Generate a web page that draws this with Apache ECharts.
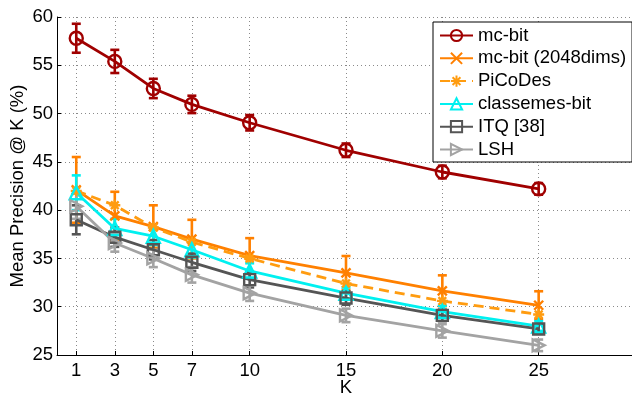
<!DOCTYPE html>
<html>
<head>
<meta charset="utf-8">
<script src="https://cdn.jsdelivr.net/npm/echarts@6/dist/echarts.min.js"></script>
<style>
  html, body { margin: 0; padding: 0; background: #fff; }
  #main { width: 632px; height: 393px; }
</style>
</head>
<body>
<div id="main"></div>
<script>
// values
const kValues = [1, 3, 5, 7, 10, 15, 20, 25]
const xTicks = [1, 3, 5, 7, 10, 15, 20, 25]
const yTicks = [25, 30, 35, 40, 45, 50, 55, 60]

const mcBit = [57.8, 55.4, 52.6, 50.95, 49.05, 46.2, 43.95, 42.2]
const mcBitErr = [1.5, 1.2, 1.0, 0.9, 0.8, 0.7, 0.65, 0.6]
const mcBit2048 = [42.1, 39.4, 38.3, 37.0, 35.3, 33.5, 31.65, 30.15]
const mcBit2048Err = [3.4, 2.5, 2.2, 2.0, 1.8, 1.75, 1.6, 1.45]
const picodes = [42.0, 40.5, 38.2, 36.7, 35.0, 32.4, 30.6, 29.2]
const classemes = [41.8, 38.1, 37.3, 35.9, 33.7, 31.4, 29.5, 28.0]
const classemesErr = [1.8, 1.0, 0.9, 0.8, 0.8, 0.6, 0.6, 0.5]
const itq = [39.0, 37.2, 35.9, 34.6, 32.8, 30.9, 29.1, 27.7]
const itqErr = [1.5, 1.0, 1.0, 0.9, 0.8, 0.7, 0.6, 0.5]
const lsh = [40.4, 36.6, 35.0, 33.3, 31.4, 29.1, 27.5, 26.0]
const lshErr = [1.3, 0.9, 0.9, 0.8, 0.8, 0.7, 0.7, 0.6]

const FONT = '"Liberation Sans", Arial, Helvetica, sans-serif'
const FS = 18.5

// marker shapes (matlab style, hollow)
const xMark = 'path://M0,0L10,10M10,0L0,10'
const starMark = 'path://M5,0L5,10M0,5L10,5M1.5,1.5L8.5,8.5M8.5,1.5L1.5,8.5'
const triRight = 'path://M0,0L10,5L0,10Z'

function pairs(vals) {
  return kValues.map((k, i) => [k, vals[i]])
}

function lineSeries(name, vals, color, symbol, size, dashed) {
  return {
    name: name,
    type: 'line',
    data: pairs(vals),
    symbol: symbol,
    symbolSize: size,
    showAllSymbol: true,
    lineStyle: { color: color, width: 2.8, type: dashed ? [10, 6] : 'solid' },
    itemStyle: { color: 'rgba(0,0,0,0)', borderColor: color, borderWidth: 2.4 },
    emphasis: { disabled: true },
    z: 3
  }
}

function errSeries(vals, errs, color) {
  return {
    type: 'custom',
    name: '',
    data: kValues.map((k, i) => [k, vals[i] - errs[i], vals[i] + errs[i]]),
    renderItem: function (params, api) {
      const x = api.value(0)
      const top = api.coord([x, api.value(2)])
      const bot = api.coord([x, api.value(1)])
      const w = 4.5
      const st = { stroke: color, lineWidth: 2.6 }
      return {
        type: 'group',
        children: [
          { type: 'line', shape: { x1: top[0], y1: top[1], x2: bot[0], y2: bot[1] }, style: st },
          { type: 'line', shape: { x1: top[0] - w, y1: top[1], x2: top[0] + w, y2: top[1] }, style: st },
          { type: 'line', shape: { x1: bot[0] - w, y1: bot[1], x2: bot[0] + w, y2: bot[1] }, style: st }
        ]
      }
    },
    z: 2,
    silent: true
  }
}

const cRed = '#a00000'
const cOrange = '#ff8000'
const cOrange2 = '#ff9c10'
const cCyan = '#00f0f0'
const cDark = '#555555'
const cLight = '#a3a3a3'

const chart = echarts.init(document.getElementById('main'))
chart.setOption({
  animation: false,
  backgroundColor: '#fff',
  textStyle: { fontFamily: FONT },
  grid: { left: 57, right: -3, top: 17, bottom: 38, containLabel: false, outerBoundsMode: 'none' },
  legend: {
    data: ['mc-bit', 'mc-bit (2048dims)', 'PiCoDes', 'classemes-bit', 'ITQ [38]', 'LSH'],
    orient: 'vertical',
    left: 433,
    top: 22,
    itemWidth: 33,
    itemHeight: 14,
    itemGap: 3.8,
    padding: [4, 6, 3, 6],
    backgroundColor: '#fff',
    borderColor: '#000',
    borderWidth: 1,
    borderRadius: 0,
    textStyle: { fontSize: FS, color: '#000', fontFamily: FONT },
    selectedMode: false
  },
  xAxis: {
    type: 'value',
    min: 0,
    max: 30,
    name: 'K',
    nameLocation: 'middle',
    nameGap: 23,
    nameMoveOverlap: false,
    nameTextStyle: { fontSize: FS, color: '#000', fontFamily: FONT },
    axisLine: { lineStyle: { color: '#000', width: 1 } },
    axisTick: { inside: true, length: 4, customValues: xTicks, lineStyle: { color: '#000' } },
    axisLabel: { customValues: xTicks, fontSize: FS, color: '#000', margin: 6, fontFamily: FONT },
    splitLine: { show: true, lineStyle: { color: '#8a8a8a', type: [1, 3], width: 1 } }
  },
  yAxis: {
    type: 'value',
    min: 25,
    max: 60,
    interval: 5,
    name: 'Mean Precision @ K (%)',
    nameLocation: 'middle',
    nameGap: 30,
    nameMoveOverlap: false,
    nameTextStyle: { fontSize: FS, color: '#000', fontFamily: FONT },
    axisLine: { show: true, lineStyle: { color: '#000', width: 1 } },
    axisTick: { show: true, inside: true, length: 4, lineStyle: { color: '#000' } },
    axisLabel: {
      fontSize: FS, color: '#000', margin: 4, fontFamily: FONT,
      formatter: v => (yTicks.indexOf(v) >= 0 ? String(v) : '')
    },
    splitLine: { show: true, lineStyle: { color: '#8a8a8a', type: [1, 3], width: 1 } }
  },
  series: [
    errSeries(mcBit, mcBitErr, cRed),
    errSeries(mcBit2048, mcBit2048Err, cOrange),
    errSeries(classemes, classemesErr, cCyan),
    errSeries(itq, itqErr, cDark),
    errSeries(lsh, lshErr, cLight),
    lineSeries('mc-bit', mcBit, cRed, 'circle', 13, false),
    lineSeries('mc-bit (2048dims)', mcBit2048, cOrange, xMark, 9, false),
    lineSeries('PiCoDes', picodes, cOrange2, starMark, 11, true),
    lineSeries('classemes-bit', classemes, cCyan, 'triangle', 13, false),
    lineSeries('ITQ [38]', itq, cDark, 'rect', 11, false),
    lineSeries('LSH', lsh, cLight, triRight, 12, false)
  ]
})
</script>
</body>
</html>
